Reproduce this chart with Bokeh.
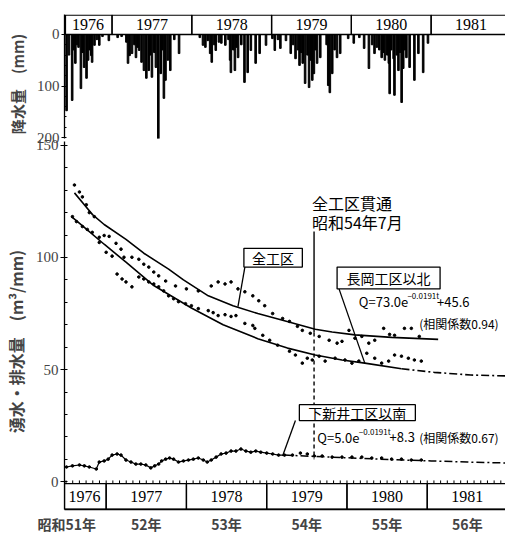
from bokeh.plotting import figure
from bokeh.layouts import column
from bokeh.models import Range1d, FixedTicker
from bokeh.embed import file_html
from bokeh.resources import INLINE
from bokeh.core.properties import value
import numpy as np

JP = "Noto Sans CJK JP"
SERIF = "Liberation Serif"

# ---------------- data ----------------
years = [1976, 1977, 1978, 1979, 1980, 1981]
showa_labels = ["昭和51年", "52年", "53年", "54年", "55年", "56年"]
showa_pos = [1976.51, 1977.5, 1978.5, 1979.5, 1980.5, 1981.5]

precip_t = [1976.43, 1976.46, 1976.50, 1976.52, 1976.54, 1976.56, 1976.58, 1976.61, 1976.63, 1976.65,
            1976.68, 1976.70, 1976.72, 1976.74, 1976.75, 1976.78, 1976.81, 1976.84, 1976.88, 1976.96,
            1977.07, 1977.12, 1977.18, 1977.20, 1977.22, 1977.25, 1977.28, 1977.30, 1977.32, 1977.34,
            1977.37, 1977.40, 1977.43, 1977.46, 1977.48, 1977.50, 1977.53, 1977.55, 1977.58, 1977.61,
            1977.63, 1977.65, 1977.67, 1977.70, 1977.73, 1977.78, 1977.84,
            1978.10, 1978.14, 1978.17, 1978.20, 1978.23, 1978.25, 1978.28, 1978.30, 1978.34, 1978.37,
            1978.42, 1978.46, 1978.48, 1978.49, 1978.52, 1978.54, 1978.56, 1978.58, 1978.62, 1978.66,
            1978.70, 1978.74, 1978.80, 1978.85, 1978.93,
            1979.01, 1979.04, 1979.08, 1979.11, 1979.18, 1979.24, 1979.27, 1979.30, 1979.33, 1979.35,
            1979.37, 1979.39, 1979.42, 1979.45, 1979.47, 1979.49, 1979.51, 1979.53, 1979.55, 1979.57,
            1979.61, 1979.69, 1979.71, 1979.73, 1979.76, 1979.79, 1979.82, 1979.86, 1979.96,
            1980.03, 1980.10, 1980.16, 1980.22, 1980.26, 1980.29, 1980.32, 1980.35, 1980.38, 1980.40,
            1980.42, 1980.45, 1980.47, 1980.48, 1980.50, 1980.53, 1980.54, 1980.57, 1980.59, 1980.61,
            1980.63, 1980.65, 1980.67, 1980.69, 1980.73, 1980.79, 1980.84, 1980.90, 1980.96]
precip_mm = [148, 40, 128, 30, 56, 20, 25, 105, 35, 64,
             85, 50, 30, 41, 54, 21, 10, 21, 4, 12,
             6, 4, 15, 56, 41, 37, 20, 45, 25, 31,
             54, 70, 85, 70, 40, 83, 35, 64, 206, 76,
             30, 124, 89, 50, 70, 10, 37,
             6, 21, 25, 12, 37, 54, 20, 31, 15, 17,
             21, 10, 50, 74, 30, 70, 25, 45, 20, 93,
             74, 31, 56, 37, 21,
             8, 31, 10, 27, 12, 37, 20, 47, 30, 60,
             35, 56, 95, 40, 103, 50, 89, 76, 30, 56,
             45, 20, 99, 113, 76, 30, 45, 37, 8,
             17, 6, 27, 66, 20, 37, 25, 30, 45, 35,
             50, 40, 56, 115, 30, 47, 118, 40, 70, 35,
             132, 66, 30, 45, 64, 89, 37, 74, 17]

# 全工区 (total) observations
zen_t = [1976.605, 1976.667, 1976.704, 1976.753, 1976.790, 1976.852, 1976.914, 1976.975, 1977.037, 1977.123,
         1977.185, 1977.222, 1977.321, 1977.407, 1977.469, 1977.531, 1977.593, 1977.654, 1977.741, 1977.864,
         1978.000, 1978.148, 1978.309, 1978.395, 1978.481, 1978.556, 1978.642, 1978.728, 1978.827, 1978.901,
         1978.975, 1979.074, 1979.198, 1979.284, 1979.383, 1979.444, 1979.543, 1979.654, 1979.778, 1979.877,
         1979.938, 1980.025, 1980.099, 1980.185, 1980.272, 1980.346, 1980.457, 1980.531, 1980.593, 1980.716,
         1980.802, 1980.901]
zen_q = [132.3, 129.2, 127.0, 123.5, 120.0, 118.2, 109.0, 109.8, 109.4, 106.3,
         103.7, 100.1, 100.1, 99.2, 97.0, 95.7, 93.5, 91.8, 89.5, 87.3,
         86.0, 85.1, 87.3, 89.1, 88.2, 89.1, 86.0, 84.7, 82.9, 80.7,
         78.5, 75.0, 72.8, 71.5, 69.3, 67.5, 66.2, 64.8, 63.1, 61.8,
         62.6, 67.5, 64.0, 64.8, 61.8, 63.1, 68.4, 65.7, 65.3, 68.4,
         68.4, 64.8]

# 長岡工区以北 observations
nag_t = [1976.580, 1976.630, 1976.704, 1976.765, 1976.827, 1976.914, 1977.000, 1977.074, 1977.136, 1977.198,
         1977.247, 1977.321, 1977.407, 1977.469, 1977.531, 1977.593, 1977.654, 1977.716, 1977.778, 1977.840,
         1977.901, 1977.988, 1978.062, 1978.148, 1978.272, 1978.333, 1978.395, 1978.481, 1978.556, 1978.617,
         1978.728, 1978.827, 1978.852, 1978.951, 1979.037, 1979.136, 1979.284, 1979.358, 1979.444, 1979.506,
         1979.568, 1979.654, 1979.728, 1979.852, 1979.975, 1980.062, 1980.148, 1980.247, 1980.346, 1980.432,
         1980.519, 1980.593, 1980.679, 1980.765, 1980.840, 1980.926]
nag_q = [118.2, 116.0, 113.8, 112.5, 111.2, 106.7, 102.3, 100.6, 92.6, 90.4,
         89.1, 86.9, 91.3, 90.4, 89.1, 88.2, 86.9, 85.1, 82.9, 81.6,
         80.3, 79.4, 78.5, 77.2, 76.3, 75.4, 74.1, 74.5, 73.7, 74.1,
         70.6, 69.7, 68.4, 65.3, 63.1, 60.9, 58.2, 56.5, 52.9, 55.1,
         54.3, 56.0, 53.8, 55.1, 54.3, 52.9, 53.8, 57.3, 55.1, 52.9,
         53.8, 56.5, 56.0, 55.1, 54.3, 53.8]

# 下新井工区以南 observations
shi_t = [1976.506, 1976.580, 1976.667, 1976.728, 1976.790, 1976.877, 1976.914, 1976.975, 1977.025, 1977.074,
         1977.136, 1977.185, 1977.247, 1977.309, 1977.370, 1977.432, 1977.494, 1977.556, 1977.605, 1977.654,
         1977.691, 1977.741, 1977.790, 1977.840, 1977.901, 1977.963, 1978.025, 1978.086, 1978.148, 1978.210,
         1978.259, 1978.309, 1978.370, 1978.432, 1978.494, 1978.556, 1978.617, 1978.679, 1978.741, 1978.802,
         1978.864, 1978.926, 1979.000, 1979.074, 1979.148, 1979.222, 1979.321, 1979.420, 1979.506, 1979.593,
         1979.691, 1979.815, 1979.938, 1980.062, 1980.185, 1980.309, 1980.432, 1980.556, 1980.679, 1980.802,
         1980.926]
shi_q = [6.6, 7.1, 7.5, 7.1, 6.6, 5.7, 8.8, 9.3, 10.1, 11.9,
         12.4, 11.9, 9.7, 8.8, 7.9, 7.9, 7.5, 6.2, 7.1, 7.9,
         9.3, 10.1, 10.6, 10.1, 8.8, 9.3, 9.7, 10.1, 10.6, 9.7,
         8.8, 9.7, 11.0, 12.4, 12.8, 13.7, 13.7, 14.6, 13.7, 13.2,
         13.7, 13.2, 12.8, 12.4, 11.9, 11.9, 11.9, 12.8, 12.4, 11.5,
         11.5, 11.0, 11.0, 11.0, 11.0, 10.6, 10.6, 10.1, 10.1, 9.7,
         9.7]

# fitted curves
fit_zen_t = [1976.605, 1976.728, 1976.830, 1976.975, 1977.247, 1977.469, 1977.778, 1977.963, 1978.272,
             1978.580, 1978.889, 1979.198, 1979.605, 1979.815, 1980.099, 1980.556, 1981.136]
fit_zen_q = [128.8, 123.5, 119.1, 114.7, 108.1, 101.9, 94.8, 90.0, 82.9,
             78.5, 75.0, 72.0, 68.0, 66.8, 65.5, 64.4, 63.5]
fit_nag_t = [1976.568, 1976.728, 1976.975, 1977.247, 1977.593, 1978.062, 1978.457, 1978.889, 1979.259,
             1979.605, 1979.938, 1980.222, 1980.679, 1981.086, 1981.543, 1981.975]
fit_nag_q = [118.2, 113.4, 105.9, 97.9, 87.5, 77.5, 70.0, 63.8, 59.6,
             56.5, 54.3, 52.9, 50.4, 48.8, 47.6, 47.2]
fit_shi_t = [1979.222, 1979.600, 1980.062, 1980.556, 1981.049, 1981.500, 1981.975]
fit_shi_q = [11.9, 11.3, 10.6, 9.9, 9.3, 8.8, 8.4]

kantsu_t = 1979.59   # 全工区貫通 昭和54年7月

# ---------------- top panel: precipitation ----------------
p1 = figure(width=505, height=146, x_range=Range1d(1976.404, 1981.932),
            y_range=Range1d(201.9, -38.8), output_backend="svg", toolbar_location=None,
            min_border_left=60, min_border_right=0, min_border_top=14, min_border_bottom=8)
p1.outline_line_color = None
p1.grid.visible = False
p1.xaxis.visible = False
p1.yaxis.ticker = FixedTicker(ticks=[0, 100, 200], minor_ticks=list(range(0, 201, 20)))
p1.yaxis.major_label_text_font = SERIF
p1.yaxis.major_label_text_font_size = "15px"
p1.yaxis.major_label_standoff = 2
p1.yaxis.major_tick_out = 3
p1.yaxis.major_tick_in = 0
p1.yaxis.minor_tick_in = 2
p1.yaxis.minor_tick_out = 0
p1.yaxis.axis_line_width = 1.3
p1.yaxis.axis_label = "降水量\u3000(mm)\u3000"
p1.yaxis.axis_label_text_font = JP
p1.yaxis.axis_label_text_font_size = "15px"
p1.yaxis.axis_label_text_font_style = "bold"
p1.yaxis.axis_label_standoff = 6

p1.vbar(x=precip_t, width=0.02, bottom=0, top=precip_mm, color="black")

strip_left_top = [1976.416] + years[1:]
strip_right_top = years[1:] + [years[-1] + 1.5]
p1.quad(left=strip_left_top, right=strip_right_top, top=-37.6, bottom=0,
        fill_color=None, line_color="black", line_width=1.3)
top_centers = [1976.70] + [y + 0.5 for y in years[1:]]
p1.text(x=top_centers, y=[-18.5] * len(years), text=[str(y) for y in years],
        text_font=value(SERIF), text_font_size="16px", text_align="center",
        text_baseline="middle", color="black")

# ---------------- main panel: inflow ----------------
p2 = figure(width=505, height=398, x_range=Range1d(1976.481, 1981.975),
            y_range=Range1d(-12.35, 151.7), output_backend="svg", toolbar_location=None,
            min_border_left=60, min_border_right=0, min_border_top=3, min_border_bottom=23)
p2.margin = (-8, 0, 0, 0)
p2.background_fill_color = None
p2.border_fill_color = None
p2.outline_line_color = None
p2.grid.visible = False
p2.yaxis.ticker = FixedTicker(ticks=[0, 50, 100, 150], minor_ticks=list(range(0, 151, 10)))
p2.yaxis.major_label_text_font = SERIF
p2.yaxis.major_label_text_font_size = "15px"
p2.yaxis.major_label_standoff = 2
p2.yaxis.major_tick_out = 4
p2.yaxis.major_tick_in = 0
p2.yaxis.minor_tick_in = 3
p2.yaxis.minor_tick_out = 0
p2.yaxis.axis_line_width = 1.3
p2.yaxis.axis_label = "湧水・排水量\u3000(m³/mm)\u3000\u3000"
p2.yaxis.axis_label_text_font = JP
p2.yaxis.axis_label_text_font_size = "16px"
p2.yaxis.axis_label_text_font_style = "bold"
p2.yaxis.axis_label_standoff = 5

p2.xaxis.ticker = FixedTicker(ticks=showa_pos, minor_ticks=[])
p2.xaxis.major_label_overrides = {pos: lab for pos, lab in zip(showa_pos, showa_labels)}
p2.xaxis.major_label_text_font = JP
p2.xaxis.major_label_text_font_size = "14px"
p2.xaxis.major_label_text_font_style = "bold"
p2.xaxis.major_label_standoff = 4
p2.xaxis.major_tick_out = 0
p2.xaxis.major_tick_in = 0
p2.xaxis.axis_line_width = 1.3

# bottom year strip
strip_left_bot = [1976.481] + years[1:]
strip_right_bot = years[1:] + [years[-1] + 1.5]
p2.quad(left=strip_left_bot, right=strip_right_bot, top=-0.8, bottom=-12.2,
        fill_color=None, line_color="black", line_width=1.3)
bot_centers = [1976.73] + [y + 0.5 for y in years[1:]]
p2.text(x=bot_centers, y=[-6.6] * len(years), text=[str(y) for y in years],
        text_font=value(SERIF), text_font_size="16px", text_align="center",
        text_baseline="middle", color="black")
months = np.arange(1976.5, 1982.0, 1 / 12)
p2.segment(x0=months, y0=-0.8, x1=months, y1=0.6, line_color="black", line_width=1)

# fitted curves
p2.line(fit_zen_t, fit_zen_q, line_color="black", line_width=1.6)
split = 12
p2.line(fit_nag_t[:split + 1], fit_nag_q[:split + 1], line_color="black", line_width=1.6)
p2.line(fit_nag_t[split:], fit_nag_q[split:], line_color="black", line_width=1.6, line_dash="8 3 2 3")
p2.line(fit_shi_t, fit_shi_q, line_color="black", line_width=1.5, line_dash="8 3 2 3")

# observations
p2.scatter(zen_t, zen_q, size=2.6, color="black")
p2.scatter(nag_t, nag_q, size=2.6, color="black")
p2.line(shi_t[:46], shi_q[:46], line_color="black", line_width=1.2)
p2.scatter(shi_t, shi_q, size=2.6, color="black")

# breakthrough marker
p2.line([kantsu_t, kantsu_t], [111.6, 66.5], line_color="black", line_width=1.4)
p2.line([kantsu_t, kantsu_t], [66.5, 10.0], line_color="black", line_width=1.4, line_dash="4 3")
p2.text(x=[1979.565, 1979.565], y=[124.4, 115.6], text=["全工区貫通", "昭和54年7月"],
        text_font=value(JP), text_font_size="16px", text_align="left", text_baseline="middle",
        color="black")

# callout boxes
box_l = [1978.716, 1979.877, 1979.407]
box_r = [1979.444, 1981.160, 1980.852]
box_t = [104.1, 95.7, 34.4]
box_b = [95.7, 86.0, 27.3]
p2.segment(x0=[1978.728, 1979.901, 1979.358], y0=[95.7, 86.0, 27.3],
           x1=[1978.642, 1980.222, 1979.198], y1=[78.1, 52.9, 11.5],
           line_color="black", line_width=1.3)
p2.quad(left=box_l, right=box_r, top=box_t, bottom=box_b,
        fill_color="white", line_color="black", line_width=1.3)
p2.text(x=[(a + b) / 2 for a, b in zip(box_l, box_r)],
        y=[(a + b) / 2 for a, b in zip(box_t, box_b)],
        text=["全工区", "長岡工区以北", "下新井工区以南"],
        text_font=value(JP), text_font_size="14px", text_align="center", text_baseline="middle",
        color="black")

# regression formulas
p2.text(x=[1980.148, 1981.123, 1979.630, 1980.531], y=[80.3, 80.3, 19.9, 19.9],
        text=["Q=73.0e", "+45.6", "Q=5.0e", "+8.3"],
        text_font=value(JP), text_font_size="13px", text_align="left", text_baseline="middle",
        color="black")
p2.text(x=[1980.753, 1980.148], y=[82.9, 22.5], text=["−0.0191t", "−0.0191t"],
        text_font=value(JP), text_font_size="8px", text_align="left", text_baseline="middle",
        color="black")
p2.text(x=[1980.90, 1980.90], y=[70.6, 19.9], text=["(相関係数0.94)", "(相関係数0.67)"],
        text_font=value(JP), text_font_size="12px", text_align="left", text_baseline="middle",
        color="black")

layout = column(p1, p2, spacing=0)
open("out.html", "w").write(file_html(layout, INLINE))
